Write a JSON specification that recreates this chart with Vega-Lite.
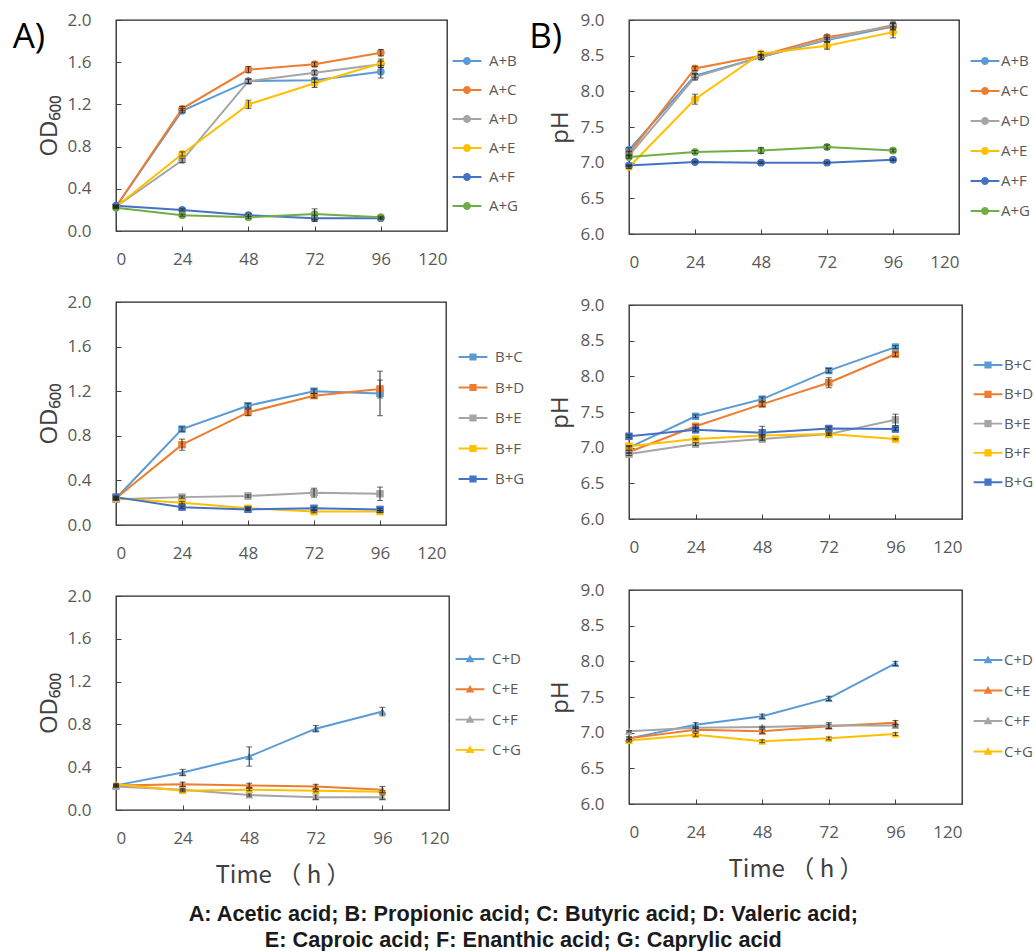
{
"$schema": "https://vega.github.io/schema/vega-lite/v6.json",
"background": "white",
"padding": {"left": 11, "top": 10, "right": 0, "bottom": 0},
"title": {"text": ["A: Acetic acid; B: Propionic acid; C: Butyric acid; D: Valeric acid;", "E: Caproic acid; F: Enanthic acid; G: Caprylic acid"], "orient": "bottom", "anchor": "middle", "frame": "bounds", "font": "Liberation Sans", "fontSize": 21.7, "fontWeight": "bold", "color": "#1a1a1a", "lineHeight": 26, "offset": 16},
"datasets": {
"od_a": [
{"t":0,"g":"A+B","v":0.23,"e":0.01},{"t":24,"g":"A+B","v":1.14,"e":0.02},{"t":48,"g":"A+B","v":1.42,"e":0.02},{"t":72,"g":"A+B","v":1.43,"e":0.02},{"t":96,"g":"A+B","v":1.51,"e":0.06},
{"t":0,"g":"A+C","v":0.23,"e":0.01},{"t":24,"g":"A+C","v":1.16,"e":0.02},{"t":48,"g":"A+C","v":1.53,"e":0.03},{"t":72,"g":"A+C","v":1.58,"e":0.02},{"t":96,"g":"A+C","v":1.69,"e":0.03},
{"t":0,"g":"A+D","v":0.23,"e":0.01},{"t":24,"g":"A+D","v":0.67,"e":0.02},{"t":48,"g":"A+D","v":1.42,"e":0.02},{"t":72,"g":"A+D","v":1.5,"e":0.02},{"t":96,"g":"A+D","v":1.58,"e":0.03},
{"t":0,"g":"A+E","v":0.23,"e":0.01},{"t":24,"g":"A+E","v":0.73,"e":0.02},{"t":48,"g":"A+E","v":1.2,"e":0.04},{"t":72,"g":"A+E","v":1.4,"e":0.04},{"t":96,"g":"A+E","v":1.59,"e":0.04},
{"t":0,"g":"A+F","v":0.24,"e":0.01},{"t":24,"g":"A+F","v":0.2,"e":0.01},{"t":48,"g":"A+F","v":0.15,"e":0.01},{"t":72,"g":"A+F","v":0.12,"e":0.03},{"t":96,"g":"A+F","v":0.12,"e":0.01},
{"t":0,"g":"A+G","v":0.22,"e":0.01},{"t":24,"g":"A+G","v":0.15,"e":0.01},{"t":48,"g":"A+G","v":0.13,"e":0.01},{"t":72,"g":"A+G","v":0.16,"e":0.05},{"t":96,"g":"A+G","v":0.13,"e":0.01}
],
"ph_a": [
{"t":0,"g":"A+B","v":7.18,"e":0.03},{"t":24,"g":"A+B","v":8.22,"e":0.03},{"t":48,"g":"A+B","v":8.48,"e":0.03},{"t":72,"g":"A+B","v":8.72,"e":0.03},{"t":96,"g":"A+B","v":8.91,"e":0.05},
{"t":0,"g":"A+C","v":7.13,"e":0.03},{"t":24,"g":"A+C","v":8.32,"e":0.03},{"t":48,"g":"A+C","v":8.5,"e":0.02},{"t":72,"g":"A+C","v":8.76,"e":0.03},{"t":96,"g":"A+C","v":8.91,"e":0.04},
{"t":0,"g":"A+D","v":7.1,"e":0.02},{"t":24,"g":"A+D","v":8.2,"e":0.04},{"t":48,"g":"A+D","v":8.48,"e":0.03},{"t":72,"g":"A+D","v":8.73,"e":0.03},{"t":96,"g":"A+D","v":8.93,"e":0.04},
{"t":0,"g":"A+E","v":6.94,"e":0.02},{"t":24,"g":"A+E","v":7.89,"e":0.07},{"t":48,"g":"A+E","v":8.53,"e":0.03},{"t":72,"g":"A+E","v":8.64,"e":0.05},{"t":96,"g":"A+E","v":8.83,"e":0.08},
{"t":0,"g":"A+F","v":6.96,"e":0.01},{"t":24,"g":"A+F","v":7.01,"e":0.01},{"t":48,"g":"A+F","v":7.0,"e":0.01},{"t":72,"g":"A+F","v":7.0,"e":0.01},{"t":96,"g":"A+F","v":7.04,"e":0.01},
{"t":0,"g":"A+G","v":7.08,"e":0.02},{"t":24,"g":"A+G","v":7.15,"e":0.02},{"t":48,"g":"A+G","v":7.17,"e":0.04},{"t":72,"g":"A+G","v":7.22,"e":0.03},{"t":96,"g":"A+G","v":7.17,"e":0.02}
],
"od_b": [
{"t":0,"g":"B+C","v":0.24,"e":0.01},{"t":24,"g":"B+C","v":0.86,"e":0.02},{"t":48,"g":"B+C","v":1.07,"e":0.02},{"t":72,"g":"B+C","v":1.2,"e":0.02},{"t":96,"g":"B+C","v":1.18,"e":0.2},
{"t":0,"g":"B+D","v":0.24,"e":0.01},{"t":24,"g":"B+D","v":0.72,"e":0.05},{"t":48,"g":"B+D","v":1.01,"e":0.03},{"t":72,"g":"B+D","v":1.16,"e":0.02},{"t":96,"g":"B+D","v":1.22,"e":0.08},
{"t":0,"g":"B+E","v":0.23,"e":0.01},{"t":24,"g":"B+E","v":0.25,"e":0.01},{"t":48,"g":"B+E","v":0.26,"e":0.01},{"t":72,"g":"B+E","v":0.29,"e":0.04},{"t":96,"g":"B+E","v":0.28,"e":0.06},
{"t":0,"g":"B+F","v":0.24,"e":0.01},{"t":24,"g":"B+F","v":0.2,"e":0.01},{"t":48,"g":"B+F","v":0.15,"e":0.01},{"t":72,"g":"B+F","v":0.12,"e":0.01},{"t":96,"g":"B+F","v":0.12,"e":0.01},
{"t":0,"g":"B+G","v":0.25,"e":0.01},{"t":24,"g":"B+G","v":0.16,"e":0.01},{"t":48,"g":"B+G","v":0.14,"e":0.01},{"t":72,"g":"B+G","v":0.15,"e":0.01},{"t":96,"g":"B+G","v":0.14,"e":0.01}
],
"ph_b": [
{"t":0,"g":"B+C","v":7.0,"e":0.02},{"t":24,"g":"B+C","v":7.44,"e":0.02},{"t":48,"g":"B+C","v":7.68,"e":0.03},{"t":72,"g":"B+C","v":8.08,"e":0.03},{"t":96,"g":"B+C","v":8.41,"e":0.02},
{"t":0,"g":"B+D","v":6.94,"e":0.02},{"t":24,"g":"B+D","v":7.3,"e":0.02},{"t":48,"g":"B+D","v":7.61,"e":0.03},{"t":72,"g":"B+D","v":7.91,"e":0.07},{"t":96,"g":"B+D","v":8.31,"e":0.03},
{"t":0,"g":"B+E","v":6.91,"e":0.02},{"t":24,"g":"B+E","v":7.05,"e":0.02},{"t":48,"g":"B+E","v":7.12,"e":0.02},{"t":72,"g":"B+E","v":7.19,"e":0.02},{"t":96,"g":"B+E","v":7.39,"e":0.08},
{"t":0,"g":"B+F","v":7.02,"e":0.01},{"t":24,"g":"B+F","v":7.12,"e":0.01},{"t":48,"g":"B+F","v":7.17,"e":0.01},{"t":72,"g":"B+F","v":7.19,"e":0.01},{"t":96,"g":"B+F","v":7.12,"e":0.01},
{"t":0,"g":"B+G","v":7.16,"e":0.02},{"t":24,"g":"B+G","v":7.25,"e":0.02},{"t":48,"g":"B+G","v":7.21,"e":0.09},{"t":72,"g":"B+G","v":7.27,"e":0.02},{"t":96,"g":"B+G","v":7.26,"e":0.02}
],
"od_c": [
{"t":0,"g":"C+D","v":0.23,"e":0.01},{"t":24,"g":"C+D","v":0.35,"e":0.03},{"t":48,"g":"C+D","v":0.5,"e":0.09},{"t":72,"g":"C+D","v":0.76,"e":0.03},{"t":96,"g":"C+D","v":0.92,"e":0.04},
{"t":0,"g":"C+E","v":0.23,"e":0.01},{"t":24,"g":"C+E","v":0.24,"e":0.02},{"t":48,"g":"C+E","v":0.23,"e":0.02},{"t":72,"g":"C+E","v":0.22,"e":0.02},{"t":96,"g":"C+E","v":0.19,"e":0.03},
{"t":0,"g":"C+F","v":0.22,"e":0.01},{"t":24,"g":"C+F","v":0.19,"e":0.01},{"t":48,"g":"C+F","v":0.14,"e":0.01},{"t":72,"g":"C+F","v":0.12,"e":0.02},{"t":96,"g":"C+F","v":0.12,"e":0.02},
{"t":0,"g":"C+G","v":0.24,"e":0.01},{"t":24,"g":"C+G","v":0.18,"e":0.01},{"t":48,"g":"C+G","v":0.19,"e":0.01},{"t":72,"g":"C+G","v":0.18,"e":0.01},{"t":96,"g":"C+G","v":0.17,"e":0.01}
],
"ph_c": [
{"t":0,"g":"C+D","v":6.92,"e":0.02},{"t":24,"g":"C+D","v":7.11,"e":0.03},{"t":48,"g":"C+D","v":7.23,"e":0.03},{"t":72,"g":"C+D","v":7.48,"e":0.03},{"t":96,"g":"C+D","v":7.97,"e":0.03},
{"t":0,"g":"C+E","v":6.92,"e":0.02},{"t":24,"g":"C+E","v":7.04,"e":0.02},{"t":48,"g":"C+E","v":7.02,"e":0.03},{"t":72,"g":"C+E","v":7.09,"e":0.03},{"t":96,"g":"C+E","v":7.14,"e":0.03},
{"t":0,"g":"C+F","v":7.02,"e":0.01},{"t":24,"g":"C+F","v":7.07,"e":0.01},{"t":48,"g":"C+F","v":7.08,"e":0.01},{"t":72,"g":"C+F","v":7.1,"e":0.04},{"t":96,"g":"C+F","v":7.1,"e":0.02},
{"t":0,"g":"C+G","v":6.89,"e":0.02},{"t":24,"g":"C+G","v":6.97,"e":0.02},{"t":48,"g":"C+G","v":6.88,"e":0.02},{"t":72,"g":"C+G","v":6.92,"e":0.02},{"t":96,"g":"C+G","v":6.98,"e":0.02}
]
},
"spacing": 2,
"resolve": {"scale": {"color": "independent", "y": "independent", "x": "independent"}, "legend": {"color": "independent"}},
"hconcat": [
{"spacing": 24,
 "resolve": {"scale": {"color": "independent", "y": "independent", "x": "independent"}, "legend": {"color": "independent"}},
 "vconcat": [
 {"width": 331, "height": 211, "data": {"name": "od_a"},
  "title": {"text": "A)", "orient": "left", "anchor": "end", "angle": 0, "align": "left", "baseline": "top", "frame": "group", "font": "Open Sans", "fontSize": 35, "fontWeight": "normal", "color": "#000000", "offset": -8, "dy": 0},
  "encoding": {
   "x": {"field": "t", "type": "quantitative", "scale": {"domain": [0, 120], "nice": false}, "axis": {"values": [0, 24, 48, 72, 96, 120], "title": null}},
   "y": {"field": "v", "type": "quantitative", "scale": {"domain": [0, 2], "nice": false}, "axis": {"values": [0, 0.4, 0.8, 1.2, 1.6, 2.0], "format": ".1f", "title": "OD₆₀₀"}},
   "color": {"field": "g", "type": "nominal", "scale": {"domain": ["A+B","A+C","A+D","A+E","A+F","A+G"], "range": ["#5B9BD5","#ED7D31","#A5A5A5","#FFC000","#4472C4","#70AD47"]}, "legend": {"orient": "none", "legendX": 343, "legendY": 33, "symbolType": "M-1.8,-0.12H1.8V0.12H-1.8Z M0.5,0A0.5,0.5,0,1,1,-0.5,0A0.5,0.5,0,1,1,0.5,0Z", "rowPadding": 13}}},
  "layer": [
   {"mark": {"type": "point", "filled": true, "opacity": 1, "shape": "circle", "size": 55}},
   {"mark": {"type": "line", "strokeWidth": 2}},
   {"mark": {"type": "point", "filled": true, "opacity": 1, "shape": "circle", "size": 55}},
   {"mark": {"type": "errorbar", "ticks": {"size": 6, "thickness": 1}, "rule": {"strokeWidth": 1}}, "encoding": {"yError": {"field": "e"}, "color": {"value": "#262626"}}}
  ]},
 {"width": 330, "height": 223, "data": {"name": "od_b"},
  "encoding": {
   "x": {"field": "t", "type": "quantitative", "scale": {"domain": [0, 120], "nice": false}, "axis": {"values": [0, 24, 48, 72, 96, 120], "title": null}},
   "y": {"field": "v", "type": "quantitative", "scale": {"domain": [0, 2], "nice": false}, "axis": {"values": [0, 0.4, 0.8, 1.2, 1.6, 2.0], "format": ".1f", "title": "OD₆₀₀"}},
   "color": {"field": "g", "type": "nominal", "scale": {"domain": ["B+C","B+D","B+E","B+F","B+G"], "range": ["#5B9BD5","#ED7D31","#A5A5A5","#FFC000","#4472C4"]}, "legend": {"orient": "none", "legendX": 349, "legendY": 47, "symbolType": "M-1.8,-0.12H1.8V0.12H-1.8Z M-0.45,-0.45H0.45V0.45H-0.45Z", "rowPadding": 14.5}}},
  "layer": [
   {"mark": {"type": "point", "filled": true, "opacity": 1, "shape": "square", "size": 50}},
   {"mark": {"type": "line", "strokeWidth": 2}},
   {"mark": {"type": "point", "filled": true, "opacity": 1, "shape": "square", "size": 50}},
   {"mark": {"type": "errorbar", "ticks": {"size": 6, "thickness": 1}, "rule": {"strokeWidth": 1}}, "encoding": {"yError": {"field": "e"}, "color": {"value": "#262626"}}}
  ]},
 {"width": 333, "height": 214, "data": {"name": "od_c"},
  "encoding": {
   "x": {"field": "t", "type": "quantitative", "scale": {"domain": [0, 120], "nice": false}, "axis": {"values": [0, 24, 48, 72, 96, 120], "title": "Time （ h ）", "titleFont": "Noto Sans CJK JP", "titleFontSize": 24, "titlePadding": 17}},
   "y": {"field": "v", "type": "quantitative", "scale": {"domain": [0, 2], "nice": false}, "axis": {"values": [0, 0.4, 0.8, 1.2, 1.6, 2.0], "format": ".1f", "title": "OD₆₀₀"}},
   "color": {"field": "g", "type": "nominal", "scale": {"domain": ["C+D","C+E","C+F","C+G"], "range": ["#5B9BD5","#ED7D31","#A5A5A5","#FFC000"]}, "legend": {"orient": "none", "legendX": 346, "legendY": 55, "symbolType": "M-1.8,-0.12H1.8V0.12H-1.8Z M0,-0.55L0.55,0.4L-0.55,0.4Z", "rowPadding": 14.3}}},
  "layer": [
   {"mark": {"type": "point", "filled": true, "opacity": 1, "shape": "triangle-up", "size": 55}},
   {"mark": {"type": "line", "strokeWidth": 2}},
   {"mark": {"type": "point", "filled": true, "opacity": 1, "shape": "triangle-up", "size": 55}},
   {"mark": {"type": "errorbar", "ticks": {"size": 6, "thickness": 1}, "rule": {"strokeWidth": 1}}, "encoding": {"yError": {"field": "e"}, "color": {"value": "#262626"}}}
  ]}
 ]},
{"spacing": 24,
 "resolve": {"scale": {"color": "independent", "y": "independent", "x": "independent"}, "legend": {"color": "independent"}},
 "vconcat": [
 {"width": 330, "height": 214, "data": {"name": "ph_a"},
  "title": {"text": "B)", "orient": "left", "anchor": "end", "angle": 0, "align": "left", "baseline": "top", "frame": "group", "font": "Open Sans", "fontSize": 35, "fontWeight": "normal", "color": "#000000", "offset": -14, "dy": 0},
  "encoding": {
   "x": {"field": "t", "type": "quantitative", "scale": {"domain": [0, 120], "nice": false}, "axis": {"values": [0, 24, 48, 72, 96, 120], "title": null}},
   "y": {"field": "v", "type": "quantitative", "scale": {"domain": [6, 9], "nice": false, "zero": false}, "axis": {"values": [6, 6.5, 7, 7.5, 8, 8.5, 9], "format": ".1f", "title": "pH", "titlePadding": 8}},
   "color": {"field": "g", "type": "nominal", "scale": {"domain": ["A+B","A+C","A+D","A+E","A+F","A+G"], "range": ["#5B9BD5","#ED7D31","#A5A5A5","#FFC000","#4472C4","#70AD47"]}, "legend": {"orient": "none", "legendX": 348, "legendY": 33, "labelOffset": 8, "symbolType": "M-1.8,-0.12H1.8V0.12H-1.8Z M0.5,0A0.5,0.5,0,1,1,-0.5,0A0.5,0.5,0,1,1,0.5,0Z", "rowPadding": 14}}},
  "layer": [
   {"mark": {"type": "point", "filled": true, "opacity": 1, "shape": "circle", "size": 55}},
   {"mark": {"type": "line", "strokeWidth": 2}},
   {"mark": {"type": "point", "filled": true, "opacity": 1, "shape": "circle", "size": 55}},
   {"mark": {"type": "errorbar", "ticks": {"size": 6, "thickness": 1}, "rule": {"strokeWidth": 1}}, "encoding": {"yError": {"field": "e"}, "color": {"value": "#262626"}}}
  ]},
 {"width": 333, "height": 214, "data": {"name": "ph_b"},
  "encoding": {
   "x": {"field": "t", "type": "quantitative", "scale": {"domain": [0, 120], "nice": false}, "axis": {"values": [0, 24, 48, 72, 96, 120], "title": null}},
   "y": {"field": "v", "type": "quantitative", "scale": {"domain": [6, 9], "nice": false, "zero": false}, "axis": {"values": [6, 6.5, 7, 7.5, 8, 8.5, 9], "format": ".1f", "title": "pH", "titlePadding": 8}},
   "color": {"field": "g", "type": "nominal", "scale": {"domain": ["B+C","B+D","B+E","B+F","B+G"], "range": ["#5B9BD5","#ED7D31","#A5A5A5","#FFC000","#4472C4"]}, "legend": {"orient": "none", "legendX": 351, "legendY": 52, "labelOffset": 8, "symbolType": "M-1.8,-0.12H1.8V0.12H-1.8Z M-0.45,-0.45H0.45V0.45H-0.45Z", "rowPadding": 13.3}}},
  "layer": [
   {"mark": {"type": "point", "filled": true, "opacity": 1, "shape": "square", "size": 50}},
   {"mark": {"type": "line", "strokeWidth": 2}},
   {"mark": {"type": "point", "filled": true, "opacity": 1, "shape": "square", "size": 50}},
   {"mark": {"type": "errorbar", "ticks": {"size": 6, "thickness": 1}, "rule": {"strokeWidth": 1}}, "encoding": {"yError": {"field": "e"}, "color": {"value": "#262626"}}}
  ]},
 {"width": 333, "height": 214, "data": {"name": "ph_c"},
  "encoding": {
   "x": {"field": "t", "type": "quantitative", "scale": {"domain": [0, 120], "nice": false}, "axis": {"values": [0, 24, 48, 72, 96, 120], "title": "Time （ h ）", "titleFont": "Noto Sans CJK JP", "titleFontSize": 24, "titlePadding": 17}},
   "y": {"field": "v", "type": "quantitative", "scale": {"domain": [6, 9], "nice": false, "zero": false}, "axis": {"values": [6, 6.5, 7, 7.5, 8, 8.5, 9], "format": ".1f", "title": "pH", "titlePadding": 8}},
   "color": {"field": "g", "type": "nominal", "scale": {"domain": ["C+D","C+E","C+F","C+G"], "range": ["#5B9BD5","#ED7D31","#A5A5A5","#FFC000"]}, "legend": {"orient": "none", "legendX": 351, "legendY": 62, "labelOffset": 8, "symbolType": "M-1.8,-0.12H1.8V0.12H-1.8Z M0,-0.55L0.55,0.4L-0.55,0.4Z", "rowPadding": 14.5}}},
  "layer": [
   {"mark": {"type": "point", "filled": true, "opacity": 1, "shape": "triangle-up", "size": 55}},
   {"mark": {"type": "line", "strokeWidth": 2}},
   {"mark": {"type": "point", "filled": true, "opacity": 1, "shape": "triangle-up", "size": 55}},
   {"mark": {"type": "errorbar", "ticks": {"size": 6, "thickness": 1}, "rule": {"strokeWidth": 1}}, "encoding": {"yError": {"field": "e"}, "color": {"value": "#262626"}}}
  ]}
 ]}
],
"config": {
 "font": "Open Sans",
 "view": {"stroke": "#262626", "strokeWidth": 1.3},
 "axis": {"grid": false, "domain": false, "labelFont": "Open Sans", "labelFontSize": 17, "labelColor": "#595959", "tickColor": "#404040", "tickSize": -5, "titleFont": "Open Sans", "titleFontSize": 24, "titleFontWeight": "normal", "titleColor": "#404040"},
 "axisX": {"labelPadding": 25},
 "axisY": {"labelPadding": 30, "titlePadding": 6},
 "legend": {"title": null, "symbolSize": 256, "labelOffset": 14, "padding": 0, "labelFont": "Open Sans", "labelFontSize": 15, "labelColor": "#595959", "symbolStrokeWidth": 0}
}
}
